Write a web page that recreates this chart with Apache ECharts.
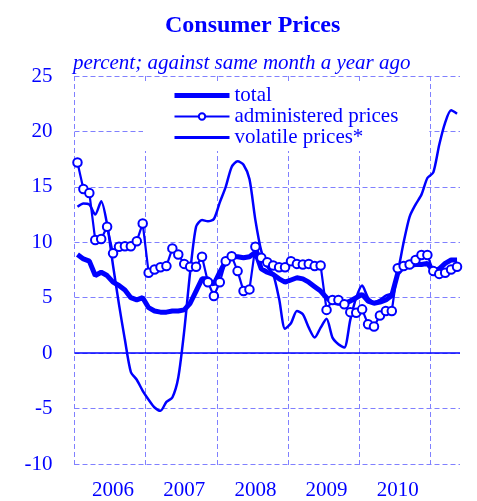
<!DOCTYPE html>
<html>
<head>
<meta charset="utf-8">
<script src="https://cdn.jsdelivr.net/npm/echarts@6/dist/echarts.min.js"></script>
<style>
  html, body { margin: 0; padding: 0; background: #fff; }
  #chart { width: 477px; height: 501px; }
</style>
</head>
<body>
<div id="chart"></div>
<script>
var years = ['2006', '2007', '2008', '2009', '2010', '2011'];
var monthNames = ['01', '02', '03', '04', '05', '06', '07', '08', '09', '10', '11', '12'];

// Jan 2006 .. May 2011
var total = [
    8.9, 8.5, 8.3, 7.0, 7.3, 7.0, 6.4, 6.1, 5.7, 5.0, 4.8, 5.0,
    4.1, 3.8, 3.7, 3.7, 3.8, 3.8, 3.9, 4.5, 5.6, 6.7, 6.7, 6.2,
    7.3, 8.3, 8.7, 8.7, 8.6, 8.7, 9.1, 7.6, 7.3, 7.1, 6.7, 6.4,
    6.6, 6.8, 6.7, 6.4, 6.0, 5.6, 5.0, 4.6, 4.5, 4.5, 4.7, 5.0,
    5.3, 4.7, 4.5, 4.6, 4.8, 5.2, 7.2, 7.8, 7.9, 8.0, 8.0, 8.1,
    7.4, 7.6, 8.1, 8.4, 8.4
];
var administered = [
    17.2, 14.8, 14.45, 10.2, 10.3, 11.4, 9.0, 9.6, 9.65, 9.65, 10.1, 11.7,
    7.25, 7.55, 7.75, 7.85, 9.45, 8.9, 8.05, 7.8, 7.8, 8.7, 6.4, 5.15,
    6.4, 8.3, 8.75, 7.4, 5.6, 5.75, 9.6, 8.6, 8.2, 7.9, 7.75, 7.75,
    8.3, 8.05, 8.0, 8.05, 7.85, 7.9, 3.9, 4.8, 4.8, 4.4, 3.7, 3.65,
    3.95, 2.6, 2.4, 3.4, 3.8, 3.8, 7.65, 7.85, 8.0, 8.4, 8.85, 8.85,
    7.4, 7.15, 7.25, 7.55, 7.8
];
var volatile = [
    13.2, 13.5, 13.4, 12.5, 13.7, 11.6, 7.9, 4.4, 1.2, -1.7, -2.4, -3.4,
    -4.2, -4.9, -5.2, -4.4, -4.0, -2.2, 2.0, 7.3, 11.4, 12.0, 11.9, 12.1,
    13.6, 15.0, 16.8, 17.3, 17.0, 15.7, 12.0, 9.2, 7.8, 7.1, 4.9, 2.2,
    2.7, 3.8, 3.5, 2.3, 1.4, 2.3, 3.1, 1.4, 0.8, 0.5, 3.0, 5.0,
    6.1, 5.0, 4.6, 4.8, 5.2, 5.4, 7.3, 10.0, 12.3, 13.4, 14.3, 15.8,
    16.3, 18.8, 20.8, 21.9, 21.6
];

var months = [];
years.forEach(function (y) {
    monthNames.forEach(function (m) {
        if (months.length < total.length) months.push(y + '-' + m);
    });
});

var blue = '#0000ff';
var gridBlue = '#8080ff';
var serif = 'Liberation Serif';
var dash = { color: gridBlue, type: [5, 3], width: 1 };

var plotLeft = 74.5, plotRight = 17;
var monthW = (477 - plotLeft - plotRight) / months.length;

var chart = echarts.init(document.getElementById('chart'), null, { renderer: 'canvas' });

chart.setOption({
    animation: false,
    backgroundColor: '#fff',
    title: [{
        text: 'Consumer Prices',
        left: 165,
        top: 14,
        padding: 0,
        textStyle: { fontFamily: serif, fontWeight: 'bold', fontSize: 24, color: blue }
    }, {
        text: 'percent; against same month a year ago',
        left: 73,
        top: 53,
        padding: 0,
        textStyle: { fontFamily: serif, fontStyle: 'italic', fontWeight: 'normal', fontSize: 21, color: blue }
    }],
    legend: {
        orient: 'vertical',
        left: 143,
        top: 81,
        padding: [4, 31, 3, 29],
        backgroundColor: '#fff',
        itemWidth: 55,
        itemHeight: 8,
        itemGap: 0,
        textStyle: { fontFamily: serif, fontSize: 21, lineHeight: 21, color: blue },
        data: [
            { name: 'total', lineStyle: { width: 5 }, itemStyle: { opacity: 0 } },
            { name: 'administered prices', lineStyle: { width: 2 } },
            { name: 'volatile prices*', lineStyle: { width: 3 }, itemStyle: { opacity: 0 } }
        ]
    },
    grid: [
        // year separators only: Jan 2006 .. Jan 2011, no line on the right edge
        { left: plotLeft, top: 76, bottom: 36, width: monthW * 60 },
        { left: plotLeft, right: plotRight, top: 76, bottom: 36 }
    ],
    xAxis: [{
        gridIndex: 0,
        type: 'value',
        min: 0,
        max: 60,
        interval: 12,
        axisLine: { show: false },
        axisTick: { show: false },
        axisLabel: { show: false },
        splitLine: { show: true, lineStyle: dash }
    }, {
        gridIndex: 1,
        type: 'category',
        data: months,
        boundaryGap: true,
        axisLine: { show: false },
        axisTick: { show: false },
        axisLabel: {
            interval: function (i) { return i % 12 === 6; },
            formatter: function (v) { return v.slice(0, 4); },
            fontFamily: serif,
            fontSize: 21,
            color: blue,
            margin: 16
        },
        splitLine: { show: false }
    }],
    yAxis: [{
        gridIndex: 0,
        type: 'value',
        min: -10,
        max: 25,
        show: false,
        splitLine: { show: false }
    }, {
        gridIndex: 1,
        type: 'value',
        min: -10,
        max: 25,
        interval: 5,
        axisLine: { show: false },
        axisTick: { show: false },
        axisLabel: { fontFamily: serif, fontSize: 21, color: blue, margin: 22 },
        splitLine: { lineStyle: dash }
    }],
    series: [{
        name: 'total',
        type: 'line',
        xAxisIndex: 1,
        yAxisIndex: 1,
        data: total,
        symbol: 'none',
        color: blue,
        lineStyle: { color: blue, width: 5 },
        z: 3,
        markLine: {
            silent: true,
            symbol: 'none',
            label: { show: false },
            lineStyle: { color: blue, type: 'solid', width: 1.5 },
            data: [{ yAxis: 0 }]
        }
    }, {
        name: 'administered prices',
        type: 'line',
        xAxisIndex: 1,
        yAxisIndex: 1,
        data: administered,
        symbol: 'circle',
        symbolSize: 8.5,
        showSymbol: true,
        showAllSymbol: true,
        color: blue,
        itemStyle: { color: '#fff', borderColor: blue, borderWidth: 2 },
        lineStyle: { color: blue, width: 2.2 },
        z: 4
    }, {
        name: 'volatile prices*',
        type: 'line',
        xAxisIndex: 1,
        yAxisIndex: 1,
        data: volatile,
        symbol: 'none',
        smooth: 0.25,
        color: blue,
        lineStyle: { color: blue, width: 2.5 },
        z: 2
    }]
});
</script>
</body>
</html>
